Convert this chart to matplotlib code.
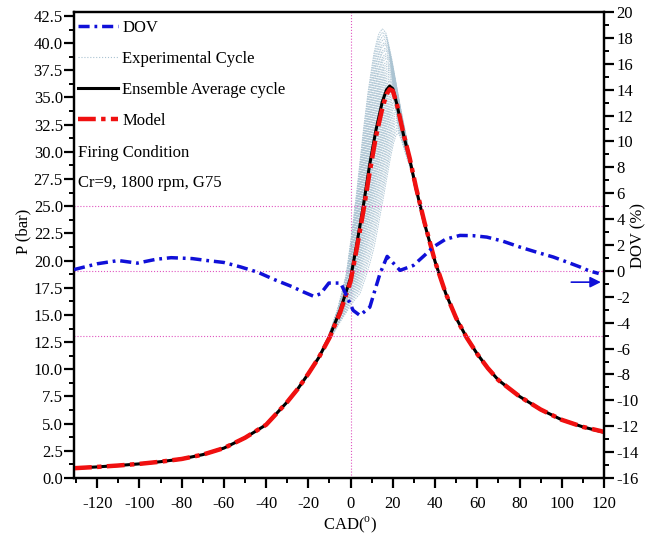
import numpy as np
import matplotlib
matplotlib.use("Agg")
import matplotlib.pyplot as plt
from matplotlib.lines import Line2D
from matplotlib.ticker import MultipleLocator, FormatStrFormatter

plt.rcParams['font.family'] = ['Liberation Serif', 'DejaVu Serif']
plt.rcParams['axes.unicode_minus'] = False
plt.rcParams['mathtext.fontset'] = 'custom'
plt.rcParams['mathtext.rm'] = 'Liberation Serif'

# Crank angle (deg) and ensemble-averaged cylinder pressure (bar)
cad = [-131, -120, -110, -100, -90, -80, -70, -60, -50, -40, -30, -25, -20, -15,
       -10, -5, 0, 3, 6, 9, 12, 15, 17, 18.5, 20, 22, 25, 28, 31, 35, 40, 45,
       50, 55, 60, 65, 70, 80, 90, 100, 110, 120]
p_avg = [0.9, 1.02, 1.15, 1.3, 1.5, 1.75, 2.15, 2.75, 3.7, 4.9, 7.0, 8.2, 9.6, 11.1,
         13.0, 15.4, 18.4, 21.6, 25.0, 28.8, 32.0, 34.6, 35.7, 36.05, 35.8, 34.3, 31.6,
         29.3, 26.6, 23.4, 19.9, 17.0, 14.7, 12.9, 11.4, 10.1, 9.0, 7.5, 6.3, 5.35,
         4.7, 4.2]
# Model prediction (bar)
p_model = [0.9, 1.02, 1.15, 1.3, 1.5, 1.75, 2.15, 2.75, 3.7, 4.9, 7.0, 8.2, 9.6, 11.1,
           12.9, 15.2, 18.1, 21.2, 24.5, 28.1, 31.4, 34.0, 35.3, 35.75, 35.6, 34.3, 31.7,
           29.4, 26.7, 23.5, 19.9, 17.0, 14.7, 12.9, 11.4, 10.1, 9.0, 7.5, 6.3, 5.35,
           4.7, 4.25]

# Deviation of the model from the ensemble average (%)
dov_cad = [-131, -120, -110, -101, -92, -85, -75, -68, -60, -52, -44, -36, -28, -22,
           -17.4, -14.2, -10.3, -4.7, -2, 1.2, 4.4, 9.1, 11.5, 13.9, 17.3, 23.4, 29.7,
           35, 39.1, 45, 51.8, 58, 64.5, 72, 80.2, 88, 96, 103, 108.7, 113, 117.5]
dov = [0.1, 0.55, 0.8, 0.6, 0.9, 1.02, 0.95, 0.8, 0.65, 0.3, -0.1, -0.68, -1.2, -1.65,
       -1.97, -1.76, -0.94, -0.94, -1.9, -3.05, -3.44, -2.8, -1.5, -0.22, 1.12, 0.04,
       0.42, 1.2, 1.84, 2.45, 2.74, 2.72, 2.61, 2.3, 1.84, 1.45, 1.07, 0.65, 0.3, 0.0,
       -0.2]

# Individual experimental cycles: peak pressure (bar) and its crank angle (deg)
cycle_peak = [41.3, 41.0, 40.7, 40.4, 40.1, 39.9, 39.6, 39.4, 39.1, 38.9, 38.7, 38.4,
              38.2, 38.0, 37.8, 37.6, 37.4, 37.2, 37.0, 36.8, 36.6, 36.5, 36.3, 36.1,
              35.9, 35.7, 35.5, 35.4, 35.2, 35.0, 34.8, 34.6, 34.4, 34.2, 34.0, 33.8,
              33.6, 33.4, 33.1, 32.9, 32.6, 32.3, 32.0, 31.7, 31.3, 30.9, 30.5, 30.0]
cycle_peak_cad = [14.6, 14.8, 15.1, 15.3, 15.6, 15.7, 16.0, 16.1, 16.4, 16.5, 16.7, 16.9,
                  17.1, 17.2, 17.4, 17.6, 17.7, 17.9, 18.0, 18.2, 18.4, 18.4, 18.6, 18.8,
                  18.9, 19.1, 19.2, 19.3, 19.5, 19.6, 19.8, 20.0, 20.1, 20.3, 20.4, 20.6,
                  20.8, 20.9, 21.2, 21.3, 21.6, 21.8, 22.0, 22.3, 22.6, 22.9, 23.2, 23.6]

fig = plt.figure(figsize=(6.56, 5.33), dpi=100)
ax = fig.add_axes([74 / 656, 1 - 478 / 533, 530 / 656, 466 / 533])
ax2 = ax.twinx()

grid_col = '#e055c0'
ax.axvline(0, color=grid_col, lw=0.8, ls=':', zorder=1)

# experimental cycles built from the ensemble profile, shifted and scaled per cycle
theta = np.linspace(cad[0], cad[-1], 900)
peak_ref_cad = cad[int(np.argmax(p_avg))]
peak_ref = max(p_avg)
w_amp = np.exp(-((theta - 15.0) / 12.0) ** 2)
w_shift = np.exp(-((theta - 10.0) / 15.0) ** 2)
exp_col = '#aac3d2'
for pk, pc in zip(cycle_peak, cycle_peak_cad):
    shift = pc - peak_ref_cad
    amp = pk / peak_ref - 1.0
    p_cyc = (1 + amp * w_amp) * np.interp(theta - shift * w_shift, cad, p_avg)
    ax.plot(theta, p_cyc, color=exp_col, lw=0.7, ls=(0, (1.5, 1.0)), alpha=0.9,
            zorder=2)

ax.plot(cad, p_avg, color='black', lw=2.2, zorder=3)
ax.plot(cad, p_model, color='#f01010', lw=3.2, dashes=(4, 1.2, 1, 1.2), zorder=4)

ax.set_xlim(-131, 120)
ax.set_ylim(0, 42.86)
ax2.set_ylim(-16, 20)

for lvl in (5, 0, -5):
    ax2.axhline(lvl, color=grid_col, lw=0.8, ls=':', zorder=1)

ax2.plot(dov_cad, dov, color='#1010d8', lw=2.5, dashes=(3.2, 1.4, 0.8, 1.4), zorder=5)
ax2.annotate('', xy=(118.5, -0.87), xytext=(104.5, -0.87),
             arrowprops=dict(arrowstyle='-|>', color='#1010d8', lw=1.2,
                             mutation_scale=16, shrinkA=0, shrinkB=0))

# axes styling
ax.xaxis.set_major_locator(MultipleLocator(20))
ax.xaxis.set_minor_locator(MultipleLocator(10))
ax.yaxis.set_major_locator(MultipleLocator(2.5))
ax.yaxis.set_minor_locator(MultipleLocator(1.25))
ax.yaxis.set_major_formatter(FormatStrFormatter('%.1f'))
ax2.yaxis.set_major_locator(MultipleLocator(2))
ax2.yaxis.set_minor_locator(MultipleLocator(1))

for a in (ax, ax2):
    for s in a.spines.values():
        s.set_linewidth(1.6)
    a.tick_params(which='major', direction='out', length=7, width=1.6, labelsize=12)
    a.tick_params(which='minor', direction='out', length=3.8, width=1.4)
ax.tick_params(axis='x', which='both', top=False)
ax.tick_params(axis='x', which='major', pad=6)
ax.tick_params(axis='y', which='major', pad=1)
ax2.tick_params(axis='y', which='major', pad=2)

ax.set_ylabel('P (bar)', fontsize=12)
ax.yaxis.set_label_coords(-0.081, 0.53)
ax2.set_ylabel('DOV (%)', fontsize=12)
ax2.yaxis.set_label_coords(1.049, 0.52)
ax.set_xlabel(r'CAD($^{\rm o}$)', fontsize=12, labelpad=0)
ax.xaxis.set_label_coords(0.521, -0.077)

handles = [
    Line2D([], [], color='#1010d8', lw=2.5, dashes=(3.2, 1.4, 0.8, 1.4)),
    Line2D([], [], color=exp_col, lw=0.8, ls=':'),
    Line2D([], [], color='black', lw=2.2),
    Line2D([], [], color='#f01010', lw=3.2, dashes=(4, 1.2, 1, 1.2)),
]
labels = ['DOV', 'Experimental Cycle', 'Ensemble Average cycle', 'Model']
ax2.legend(handles, labels, loc='upper left', bbox_to_anchor=(0.005, 0.9865),
           frameon=False, fontsize=12, handlelength=2.4, handletextpad=0.25,
           labelspacing=0.9, borderaxespad=0.05, borderpad=0.05)

ax2.text(0.007, 0.697, 'Firing Condition', transform=ax2.transAxes, fontsize=12,
         va='center', ha='left')
ax2.text(0.007, 0.633, 'Cr=9, 1800 rpm, G75', transform=ax2.transAxes, fontsize=12,
         va='center', ha='left')

fig.savefig('out.png', dpi=100)
